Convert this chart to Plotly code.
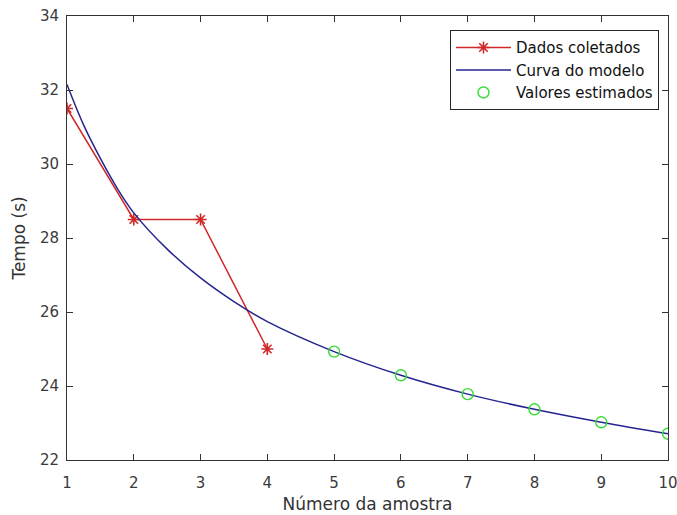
import plotly.graph_objects as go

# Data
x_coletados = [1, 2, 3, 4]
y_coletados = [31.5, 28.5, 28.5, 25.0]

x_modelo = [1, 1.25, 1.5, 1.75, 2, 2.5, 3, 3.5, 4, 5, 6, 7, 8, 9, 10]
y_modelo = [32.15, 31.05, 30.15, 29.35, 28.68, 27.70, 26.92, 26.28, 25.74, 24.93, 24.29, 23.78, 23.37, 23.02, 22.71]

x_estimados = [5, 6, 7, 8, 9, 10]
y_estimados = [24.93, 24.29, 23.78, 23.37, 23.02, 22.71]

x_ticks = list(range(1, 11))
y_ticks = [22, 24, 26, 28, 30, 32, 34]

FONT = "DejaVu Sans, Arial, sans-serif"

fig = go.Figure()
fig.add_trace(go.Scatter(
    x=x_coletados, y=y_coletados, mode="lines+markers", name="Dados coletados",
    line=dict(color="#d02828", width=1.5),
    marker=dict(symbol="asterisk-open", size=10, color="#d02828", line=dict(color="#d02828", width=1.6)),
))
fig.add_trace(go.Scatter(
    x=x_modelo, y=y_modelo, mode="lines", name="Curva do modelo",
    line=dict(color="#25258f", width=1.5, shape="spline", smoothing=1.0),
))
fig.add_trace(go.Scatter(
    x=x_estimados, y=y_estimados, mode="markers", name="Valores estimados",
    marker=dict(symbol="circle-open", size=11, color="#33dd33", line=dict(color="#33dd33", width=1.4)),
))

axis_common = dict(
    showgrid=False, zeroline=False, showline=True, linecolor="#333333", linewidth=1,
    mirror="allticks", ticks="inside", ticklen=6, tickcolor="#333333",
    tickfont=dict(family=FONT, size=15, color="#3a3a3a"), automargin=False,
    ticklabeloverflow="allow",
)

fig.update_layout(
    width=677, height=515,
    margin=dict(l=67, r=9, t=16, b=55),
    paper_bgcolor="white", plot_bgcolor="white",
    font=dict(family=FONT, color="#262626"),
    showlegend=True,
    legend=dict(
        x=0.985, y=0.968, xanchor="right", yanchor="top",
        bgcolor="white", bordercolor="#262626", borderwidth=1,
        font=dict(family=FONT, size=15, color="#111111"),
        tracegroupgap=0, itemwidth=55,
    ),
    xaxis=dict(range=[1, 10], tickvals=x_ticks, ticklabelstandoff=9, **axis_common,
               title=dict(text="Número da amostra", font=dict(family=FONT, size=17, color="#333333"), standoff=7)),
    yaxis=dict(range=[22, 34], tickvals=y_ticks, ticklabelstandoff=4, **axis_common,
               title=dict(text="Tempo (s)", font=dict(family=FONT, size=17, color="#333333"), standoff=9)),
)

fig.write_html("out.html")
